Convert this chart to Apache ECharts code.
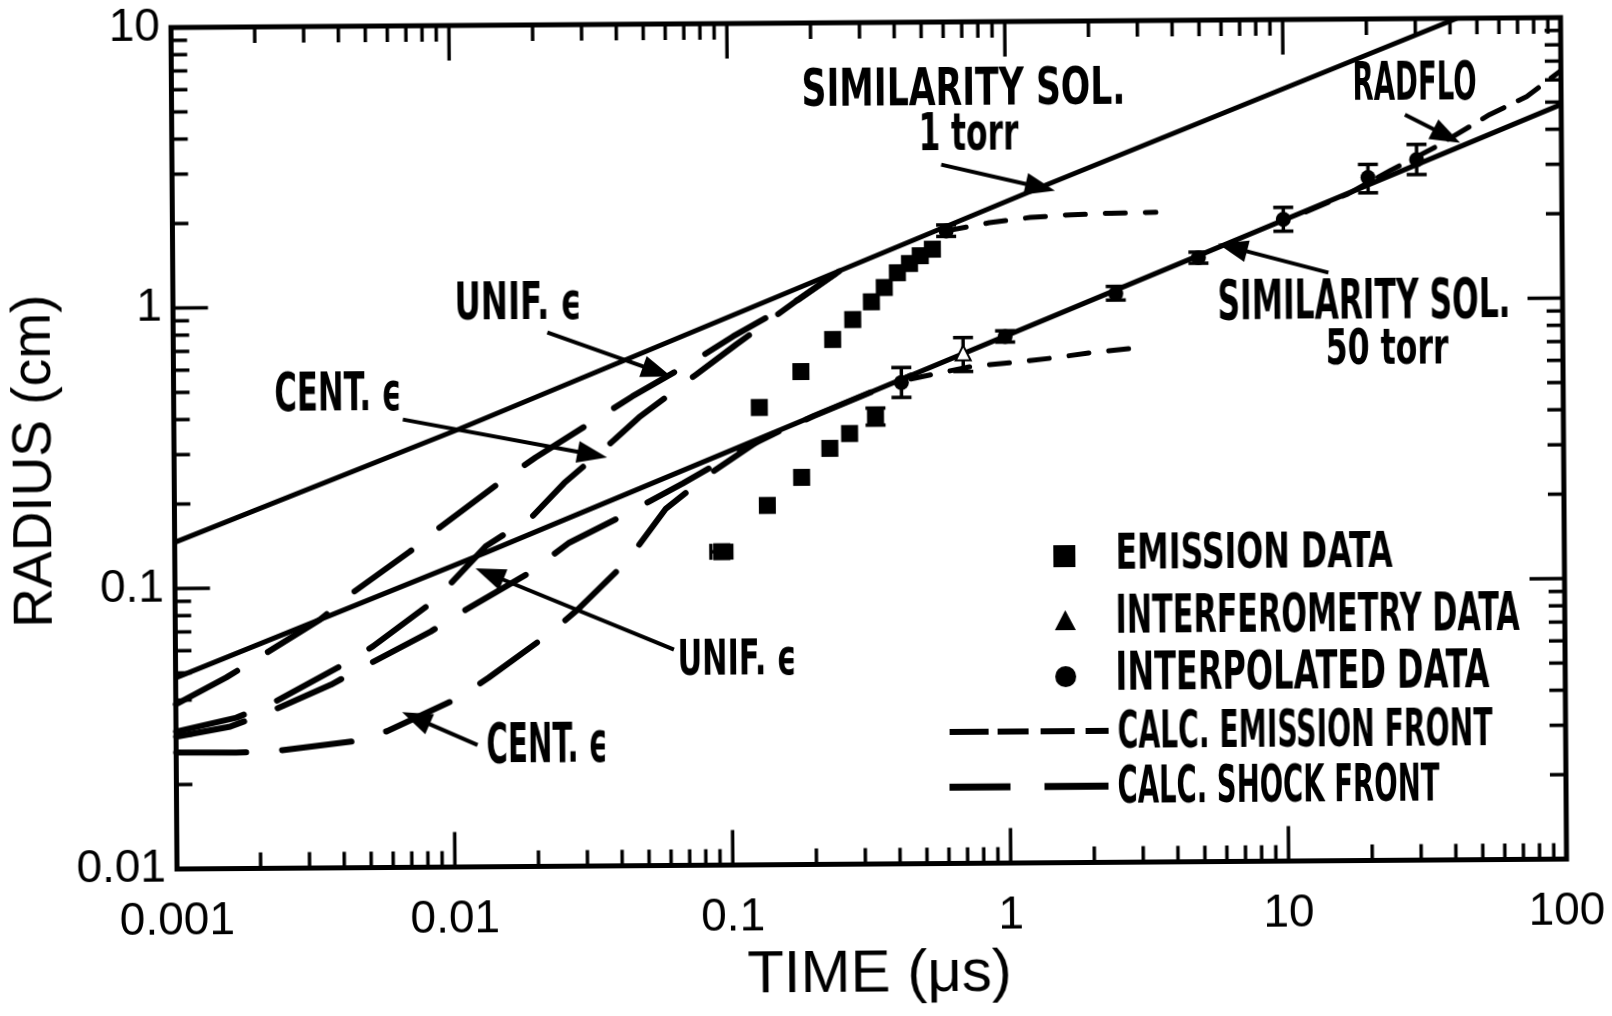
<!DOCTYPE html>
<html><head><meta charset="utf-8">
<script src="https://cdn.jsdelivr.net/npm/echarts@6/dist/echarts.min.js"></script>
<style>
html,body{margin:0;padding:0;background:#fff;overflow:hidden}
#chart{width:1612px;height:1016px;transform:rotate(-0.41deg);transform-origin:50% 50%;}
</style>
</head><body><div id="chart"></div>
<script>
// ---------- axis ticks ----------
const xDecades = [0.001, 0.01, 0.1, 1, 10, 100];
const yDecades = [0.01, 0.1, 1, 10];
const minorSteps = [2, 3, 4, 5, 6, 7, 8, 9];

// ---------- similarity solutions ----------
const sim1T = [0.001, 0.0107, 1.33, 42.4];
const sim1R = [0.146, 0.365, 2.56, 10];
const sim50T = [0.001, 0.0132, 1, 100];
const sim50R = [0.048, 0.132, 0.76, 4.9];

// ---------- calc. shock fronts ----------
const unif1T = [0.001, 0.00152, 0.00202, 0.00332, 0.00426, 0.0070, 0.00907, 0.0148, 0.020, 0.0329, 0.0447, 0.076, 0.1033, 0.177, 0.25];
const unif1R = [0.0386, 0.048, 0.0569, 0.0768, 0.0941, 0.1334, 0.1635, 0.234, 0.287, 0.39, 0.471, 0.635, 0.766, 1.03, 1.3];
const cent1T = [0.001, 0.00165, 0.00228, 0.00384, 0.00513, 0.00867, 0.01315, 0.0194, 0.0253, 0.0384, 0.0472, 0.0759, 0.1067, 0.177, 0.25];
const cent1R = [0.0309, 0.0345, 0.0393, 0.0518, 0.0614, 0.09, 0.1388, 0.177, 0.2323, 0.33, 0.3965, 0.5615, 0.72, 1.03, 1.3];
const unif50T = [0.001, 0.00157, 0.00211, 0.00362, 0.00492, 0.0083, 0.0111, 0.01888, 0.0263, 0.0419, 0.0675, 0.1105, 0.15];
const unif50R = [0.0296, 0.0321, 0.0357, 0.045, 0.0529, 0.0692, 0.0825, 0.1116, 0.1424, 0.1788, 0.23, 0.303, 0.35];
const cent50T = [0.001, 0.00164, 0.00222, 0.0043, 0.00574, 0.0105, 0.0134, 0.0227, 0.0281, 0.0423, 0.0587, 0.0857, 0.13, 0.2, 0.45];
const cent50R = [0.026, 0.0259, 0.0261, 0.0282, 0.0306, 0.0402, 0.0473, 0.0687, 0.0822, 0.1216, 0.1873, 0.251, 0.33, 0.396, 0.55];

// ---------- calc. emission fronts ----------
const emf1T = [0.61, 0.87, 1.22, 1.71, 2.38, 3.46];
const emf1R = [1.80, 1.92, 2.0, 2.04, 2.06, 2.07];
const emf50T = [0.45, 0.74, 1.12, 1.5, 2.0, 3.0];
const emf50R = [0.535, 0.59, 0.613, 0.632, 0.657, 0.683];

// ---------- RADFLO ----------
const radfloT = [12, 17, 24.2, 35.6, 55.3, 75.2, 99];
const radfloR = [2.06, 2.38, 2.88, 3.5, 4.53, 5.24, 6.42];

// ---------- data points ----------
const emisT = [0.128, 0.181, 0.236, 0.279, 0.326, 0.363, 0.405, 0.448, 0.49, 0.542, 0.093, 0.136, 0.181, 0.229, 0.27, 0.335];
const emisR = [0.427, 0.572, 0.743, 0.874, 1.01, 1.135, 1.28, 1.38, 1.47, 1.55, 0.131, 0.191, 0.24, 0.304, 0.343, 0.394];
const emisErrT = [0.335];
const emisErrLo = [0.367];
const emisErrHi = [0.422];
const emisHErrR = [0.131];
const emisHErrLo = [0.085];
const emisHErrHi = [0.101];

const interfT = [0.695];
const interfR = [0.66];
const interfLo = [0.567];
const interfHi = [0.749];

const interpT = [0.608, 0.416, 0.985, 2.47, 4.91, 9.94, 20.1, 30.1];
const interpR = [1.80, 0.52, 0.753, 1.065, 1.424, 1.94, 2.72, 3.14];
const interpLo = [1.72, 0.46, 0.72, 1.01, 1.36, 1.76, 2.40, 2.78];
const interpHi = [1.89, 0.588, 0.79, 1.13, 1.49, 2.14, 3.03, 3.56];

// ---------- annotation arrows ----------
const arrowFrom = [[0.586, 3.1], [27.4, 4.55], [14.4, 1.25], [0.0222, 0.80], [0.00667, 0.395], [0.0622, 0.0588], [0.01215, 0.0272]];
const arrowTo   = [[1.33, 2.56], [38.7, 3.81], [6.51, 1.544], [0.055, 0.577], [0.032, 0.293], [0.01354, 0.1106], [0.0073, 0.034]];

// ---------- fonts / helpers ----------
const NARROW = '"Liberation Sans Narrow", "DejaVu Sans Condensed", "Liberation Sans", sans-serif';
const REG = '"Liberation Sans", "DejaVu Sans", sans-serif';

const zip = (a, b) => a.map((v, i) => [v, b[i]]);
const fmt = v => String(Number(Number(v).toPrecision(3)));

const mctx = document.createElement('canvas').getContext('2d');
function measure(text, fs) {
  mctx.font = 'bold ' + fs + 'px ' + NARROW;
  return mctx.measureText(text).width;
}
function annot(text, cx, cy, w, cap) {
  const fs = Math.round(cap / 0.72);
  const m = measure(text, fs);
  return {
    type: 'text', x: cx, y: cy, scaleX: w / m, scaleY: 1, z: 20,
    style: { text: text, fontSize: fs, fontWeight: 'bold', fontFamily: NARROW, fill: '#000', align: 'center', verticalAlign: 'middle' }
  };
}

function tickSeries(values, axis, len) {
  return {
    type: 'custom', coordinateSystem: 'cartesian2d', silent: true, clip: false, z: 5,
    data: values.map(v => axis === 'x' ? [v, 1] : [1, v]),
    renderItem: (params, api) => {
      const cs = params.coordSys;
      const st = { stroke: '#000', lineWidth: 3.5 };
      if (axis === 'x') {
        const x = api.coord([api.value(0), 1])[0];
        const b = cs.y + cs.height, t = cs.y;
        return { type: 'group', children: [
          { type: 'line', shape: { x1: x, y1: b, x2: x, y2: b - len }, style: st },
          { type: 'line', shape: { x1: x, y1: t, x2: x, y2: t + len }, style: st }
        ] };
      } else {
        const y = api.coord([1, api.value(1)])[1];
        const l = cs.x, r = cs.x + cs.width;
        return { type: 'group', children: [
          { type: 'line', shape: { x1: l, y1: y, x2: l + len, y2: y }, style: st },
          { type: 'line', shape: { x1: r, y1: y, x2: r - len, y2: y }, style: st }
        ] };
      }
    }
  };
}

function vErr(T, lo, hi) {
  return {
    type: 'custom', coordinateSystem: 'cartesian2d', silent: true, z: 6,
    encode: { x: 0, y: [1, 2] },
    data: T.map((t, i) => [t, lo[i], hi[i]]),
    renderItem: (params, api) => {
      const p1 = api.coord([api.value(0), api.value(1)]);
      const p2 = api.coord([api.value(0), api.value(2)]);
      const c = 10, st = { stroke: '#000', lineWidth: 3.5 };
      return { type: 'group', children: [
        { type: 'line', shape: { x1: p1[0], y1: p1[1], x2: p2[0], y2: p2[1] }, style: st },
        { type: 'line', shape: { x1: p1[0] - c, y1: p1[1], x2: p1[0] + c, y2: p1[1] }, style: st },
        { type: 'line', shape: { x1: p2[0] - c, y1: p2[1], x2: p2[0] + c, y2: p2[1] }, style: st }
      ] };
    }
  };
}
function hErr(R, lo, hi) {
  return {
    type: 'custom', coordinateSystem: 'cartesian2d', silent: true, z: 6,
    encode: { x: [0, 1], y: 2 },
    data: R.map((r, i) => [lo[i], hi[i], r]),
    renderItem: (params, api) => {
      const p1 = api.coord([api.value(0), api.value(2)]);
      const p2 = api.coord([api.value(1), api.value(2)]);
      const c = 8, st = { stroke: '#000', lineWidth: 3.5 };
      return { type: 'group', children: [
        { type: 'line', shape: { x1: p1[0], y1: p1[1], x2: p2[0], y2: p2[1] }, style: st },
        { type: 'line', shape: { x1: p1[0], y1: p1[1] - c, x2: p1[0], y2: p1[1] + c }, style: st },
        { type: 'line', shape: { x1: p2[0], y1: p2[1] - c, x2: p2[0], y2: p2[1] + c }, style: st }
      ] };
    }
  };
}

const xMinor = [], yMinor = [];
xDecades.slice(0, -1).forEach(d => minorSteps.forEach(m => xMinor.push(Number((d * m).toPrecision(2)))));
yDecades.slice(0, -1).forEach(d => minorSteps.forEach(m => yMinor.push(Number((d * m).toPrecision(2)))));

const shockStyle = { color: '#000', width: 6, type: [70, 36], cap: 'round' };
const emfStyle = { color: '#000', width: 5, type: [20, 20], cap: 'round' };

// legend icons (library legend), labels drawn as condensed text next to them
const noText = () => '';
const legendBase = { padding: 0, selectedMode: false, formatter: noText, textStyle: { fontSize: 1 } };

const chart = echarts.init(document.getElementById('chart'), null, { renderer: 'canvas' });
const option = {
  animation: false,
  backgroundColor: '#fff',
  grid: { left: 170.5, right: 48, top: 23, bottom: 151.5, show: true, borderColor: '#000', borderWidth: 5, backgroundColor: 'transparent' },
  xAxis: {
    type: 'log', logBase: 10, min: 0.001, max: 100,
    axisLine: { show: false }, axisTick: { show: false }, splitLine: { show: false },
    axisLabel: { margin: 30, fontSize: 46, color: '#000', fontFamily: REG, formatter: fmt },
    name: 'TIME (μs)', nameLocation: 'middle', nameGap: 78,
    nameTextStyle: { fontSize: 60, fontFamily: REG, color: '#000', padding: [0, 0, 0, 14] }
  },
  yAxis: {
    type: 'log', logBase: 10, min: 0.01, max: 10,
    axisLine: { show: false }, axisTick: { show: false }, splitLine: { show: false },
    axisLabel: { margin: 11, fontSize: 46, color: '#000', fontFamily: REG, formatter: fmt },
    name: 'RADIUS (cm)', nameLocation: 'middle', nameRotate: 90, nameGap: 102,
    nameTextStyle: { fontSize: 55, fontFamily: REG, color: '#000', padding: [0, 24, 0, 0] }
  },
  legend: [
    Object.assign({ data: ['EMISSION DATA'], left: 1053, top: 547, icon: 'rect', itemWidth: 22, itemHeight: 22, itemStyle: { color: '#000', borderWidth: 0, opacity: 1 } }, legendBase),
    Object.assign({ data: ['INTERFEROMETRY DATA'], left: 1054, top: 612, icon: 'triangle', itemWidth: 21, itemHeight: 20, itemStyle: { color: '#000', borderWidth: 0, opacity: 1 } }, legendBase),
    Object.assign({ data: ['INTERPOLATED DATA'], left: 1054, top: 668, icon: 'circle', itemWidth: 21, itemHeight: 21, itemStyle: { color: '#000', borderWidth: 0, opacity: 1 } }, legendBase),
    Object.assign({ data: ['CALC. EMISSION FRONT'], left: 948, top: 730, itemWidth: 159, itemHeight: 6,
      icon: 'path://M0,0h39v6h-39z M48,0h31v6h-31z M91,0h34v6h-34z M136,0h23v6h-23z', itemStyle: { color: '#000', borderWidth: 0, opacity: 1 } }, legendBase),
    Object.assign({ data: ['CALC. SHOCK FRONT'], left: 947.5, top: 784.7, itemWidth: 159, itemHeight: 7,
      icon: 'path://M0,0h61v7h-61z M95,0h64v7h-64z', itemStyle: { color: '#000', borderWidth: 0, opacity: 1 } }, legendBase)
  ],
  graphic: [
    annot('SIMILARITY SOL.', 966.5, 93.2, 324, 37),
    annot('1 torr', 971.2, 138.2, 100, 37),
    annot('RADFLO', 1417.6, 89.9, 124, 38),
    annot('SIMILARITY SOL.', 1365.5, 307.1, 293, 40),
    annot('50 torr', 1388.2, 354.7, 123, 36),
    annot('UNIF. ϵ', 519.5, 304, 127, 37),
    annot('CENT. ϵ', 338.8, 392.9, 127, 38),
    annot('UNIF. ϵ', 735.9, 661, 119, 35),
    annot('CENT. ϵ', 545.3, 745.3, 121, 40),
    annot('EMISSION DATA', 1253.7, 557.8, 277, 36),
    annot('INTERFEROMETRY DATA', 1316.8, 621.2, 404, 38),
    annot('INTERPOLATED DATA', 1301.3, 678.1, 374, 38),
    annot('CALC. EMISSION FRONT', 1303.4, 737.1, 375, 37),
    annot('CALC. SHOCK FRONT', 1276.5, 791.4, 322, 37)
  ],
  series: [
    { name: 'SIMILARITY SOL. 1 torr', type: 'line', data: zip(sim1T, sim1R), symbol: 'none', z: 3,
      lineStyle: { color: '#000', width: 5 }, itemStyle: { color: '#000' },
      markLine: { silent: true, symbol: ['none', 'triangle'], symbolSize: [22, 30], animation: false,
        lineStyle: { color: '#000', width: 4, type: 'solid' }, label: { show: false },
        data: arrowFrom.map((a, i) => [{ coord: a }, { coord: arrowTo[i] }]) } },
    { name: 'SIMILARITY SOL. 50 torr', type: 'line', data: zip(sim50T, sim50R), symbol: 'none', z: 3,
      lineStyle: { color: '#000', width: 5 }, itemStyle: { color: '#000' } },
    { name: 'CALC. SHOCK FRONT', type: 'line', data: zip(unif1T, unif1R), symbol: 'none', lineStyle: shockStyle, itemStyle: { color: '#000' } },
    { name: 'CALC. SHOCK FRONT', type: 'line', data: zip(cent1T, cent1R), symbol: 'none', lineStyle: shockStyle, itemStyle: { color: '#000' } },
    { name: 'CALC. SHOCK FRONT', type: 'line', data: zip(unif50T, unif50R), symbol: 'none', lineStyle: shockStyle, itemStyle: { color: '#000' } },
    { name: 'CALC. SHOCK FRONT', type: 'line', data: zip(cent50T, cent50R), symbol: 'none', lineStyle: shockStyle, itemStyle: { color: '#000' } },
    { name: 'CALC. EMISSION FRONT', type: 'line', data: zip(emf1T, emf1R), symbol: 'none', lineStyle: emfStyle, itemStyle: { color: '#000' } },
    { name: 'CALC. EMISSION FRONT', type: 'line', data: zip(emf50T, emf50R), symbol: 'none', lineStyle: emfStyle, itemStyle: { color: '#000' } },
    { name: 'RADFLO', type: 'line', data: zip(radfloT, radfloR), symbol: 'none',
      lineStyle: { color: '#000', width: 5, type: [24, 16], cap: 'round' }, itemStyle: { color: '#000' } },
    { name: 'EMISSION DATA', type: 'scatter', data: zip(emisT, emisR), symbol: 'rect', symbolSize: 17, z: 7, itemStyle: { color: '#000', opacity: 1 } },
    { name: 'INTERFEROMETRY DATA', type: 'scatter', data: zip(interfT, interfR), symbol: 'emptyTriangle', symbolSize: 15, z: 7,
      itemStyle: { color: '#000', borderColor: '#000', borderWidth: 3, opacity: 1 } },
    { name: 'INTERPOLATED DATA', type: 'scatter', data: zip(interpT, interpR), symbol: 'circle', symbolSize: 15, z: 7, itemStyle: { color: '#000', opacity: 1 } },
    vErr(interpT, interpLo, interpHi),
    vErr(interfT, interfLo, interfHi),
    vErr(emisErrT, emisErrLo, emisErrHi),
    hErr(emisHErrR, emisHErrLo, emisHErrHi),
    tickSeries(xDecades, 'x', 35),
    tickSeries(xMinor, 'x', 16),
    tickSeries(yDecades, 'y', 35),
    tickSeries(yMinor, 'y', 16)
  ]
};
chart.setOption(option);
</script>
</body></html>
